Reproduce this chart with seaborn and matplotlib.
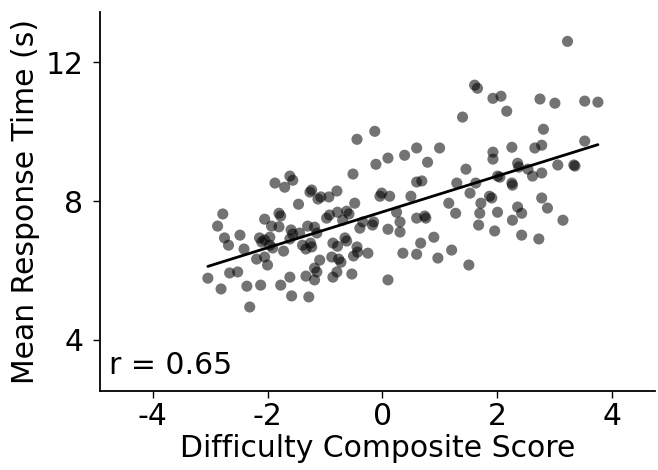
import numpy as np
import pandas as pd
import matplotlib
matplotlib.use("Agg")
import matplotlib.pyplot as plt
import seaborn as sns

# Difficulty composite score per item
difficulty = [
    -3.04, -2.87, -2.81, -2.78, -2.75, -2.68, -2.66, -2.52, -2.48, -2.41,
    -2.36, -2.31, -2.19, -2.12, -2.05, -2.00, -2.05, -1.93, -1.80, -1.80,
    -1.77, -1.87, -1.70, -1.61, -1.56, -2.14, -2.05, -1.96, -1.96, -1.77,
    -1.72, -1.91, -2.10, -1.61, -1.56, -1.59, -1.46, -1.44, -1.39, -1.33,
    -1.25, -1.23, -1.30, -1.26, -1.23, -1.12, -1.07, -0.93, -1.18, -1.14,
    -1.09, -1.18, -1.14, -1.18, -1.61, -1.33, -1.58, -1.28, -0.97, -0.92,
    -0.88, -0.86, -0.78, -0.76, -0.72, -0.79, -0.86, -0.79, -0.78, -0.69,
    -0.65, -0.62, -0.62, -0.58, -0.51, -0.48, -0.44, -0.50, -0.44, -0.43,
    -0.53, -0.39, -0.34, -0.25, -0.15, -0.17, -0.13, -0.11, -0.04, -0.01,
    0.13, 0.10, 0.10, 0.10, 0.25, 0.31, 0.31, 0.36, 0.39, 0.50,
    0.60, 0.60, 0.69, 0.60, 0.74, 0.76, 0.67, 0.60, 0.79, 0.90,
    0.97, 1.00, 1.16, 1.21, 1.28, 1.30, 1.40, 1.46, 1.51, 1.53,
    1.63, 1.61, 1.66, 1.72, 1.70, 1.68, 1.87, 1.91, 1.93, 1.93,
    1.93, 1.96, 2.01, 2.01, 2.05, 2.07, 2.17, 2.26, 2.26, 2.27,
    2.27, 2.36, 2.38, 2.36, 2.43, 2.43, 2.54, 2.62, 2.66, 2.78,
    2.73, 2.75, 2.78, 2.78, 2.81, 2.88, 3.01, 3.06, 3.15, 3.23,
    3.34, 3.36, 3.53, 3.53, 3.76,
]

# Mean response time per item, in seconds
response_time = [
    5.78, 7.28, 5.47, 7.63, 6.94, 6.73, 5.93, 5.96, 7.02, 6.62,
    5.55, 4.95, 6.33, 5.58, 6.39, 6.16, 7.48, 7.28, 7.26, 7.65,
    7.57, 8.52, 8.40, 8.72, 8.60, 6.94, 6.88, 6.96, 6.73, 5.58,
    6.56, 6.65, 6.82, 6.91, 7.05, 7.17, 7.91, 7.08, 6.73, 6.62,
    6.79, 6.68, 7.28, 8.26, 8.32, 8.06, 8.12, 8.12, 7.25, 7.08,
    6.30, 6.07, 5.96, 5.73, 5.81, 5.84, 5.27, 5.24, 7.51, 7.60,
    6.39, 6.79, 6.70, 6.33, 6.24, 5.96, 5.81, 8.29, 7.68, 7.45,
    6.94, 6.85, 7.71, 7.63, 8.78, 7.94, 9.78, 6.42, 6.68, 6.53,
    5.90, 7.22, 7.40, 6.50, 7.40, 7.31, 10.01, 9.06, 8.14, 8.23,
    8.14, 9.24, 7.19, 5.73, 7.68, 7.40, 7.11, 6.50, 9.32, 8.14,
    9.53, 8.55, 8.58, 7.51, 7.57, 7.51, 6.79, 6.47, 9.12, 6.96,
    6.36, 9.53, 7.94, 6.59, 7.65, 8.52, 10.42, 8.92, 6.16, 8.23,
    8.52, 11.34, 11.25, 7.94, 7.65, 7.31, 8.14, 8.09, 10.96, 9.41,
    9.21, 7.14, 7.68, 8.72, 8.69, 11.02, 10.59, 9.55, 8.52, 8.46,
    7.45, 9.09, 8.98, 7.83, 7.65, 7.02, 8.92, 8.72, 9.53, 9.61,
    6.91, 10.94, 8.81, 8.09, 10.07, 7.80, 10.82, 9.04, 7.45, 12.60,
    9.04, 9.01, 10.88, 9.73, 10.85,
]

x_ticks = [-4, -2, 0, 2, 4]
y_ticks = [4, 8, 12]
r_label = "r = 0.65"

df = pd.DataFrame({"difficulty": difficulty, "rt": response_time})

sns.set_theme(style="ticks")
plt.rcParams["font.family"] = ["DejaVu Sans"]

fig = plt.figure(figsize=(6.58, 4.70), dpi=100)
ax = fig.add_axes([0.152, 0.168, 0.843, 0.806])

sns.scatterplot(data=df, x="difficulty", y="rt", ax=ax, color="black",
                alpha=0.55, s=64, edgecolor="none", linewidth=0)
sns.regplot(data=df, x="difficulty", y="rt", ax=ax, scatter=False, ci=None,
            color="black", line_kws={"linewidth": 2})

ax.set_xlim(-4.92, 4.75)
ax.set_ylim(2.53, 13.44)
ax.set_xticks(x_ticks)
ax.set_yticks(y_ticks)
ax.set_xticklabels([f"{t}" for t in x_ticks])
ax.set_yticklabels([f"{t}" for t in y_ticks])
ax.tick_params(axis="both", labelsize=21.5, length=5, width=1, color="black",
               labelcolor="black")
ax.tick_params(axis="x", pad=3)
ax.tick_params(axis="y", pad=7)
ax.set_xlabel("Difficulty Composite Score", fontsize=21.5, color="black", labelpad=2)
ax.set_ylabel("Mean Response Time (s)", fontsize=21.5, color="black", labelpad=4)

for side in ["top", "right"]:
    ax.spines[side].set_visible(False)
for side in ["left", "bottom"]:
    ax.spines[side].set_color("black")
    ax.spines[side].set_linewidth(1.3)

ax.text(0.016, 0.03, r_label, transform=ax.transAxes, fontsize=21.5,
        color="black", ha="left", va="bottom")

fig.savefig("out.png", dpi=100)
